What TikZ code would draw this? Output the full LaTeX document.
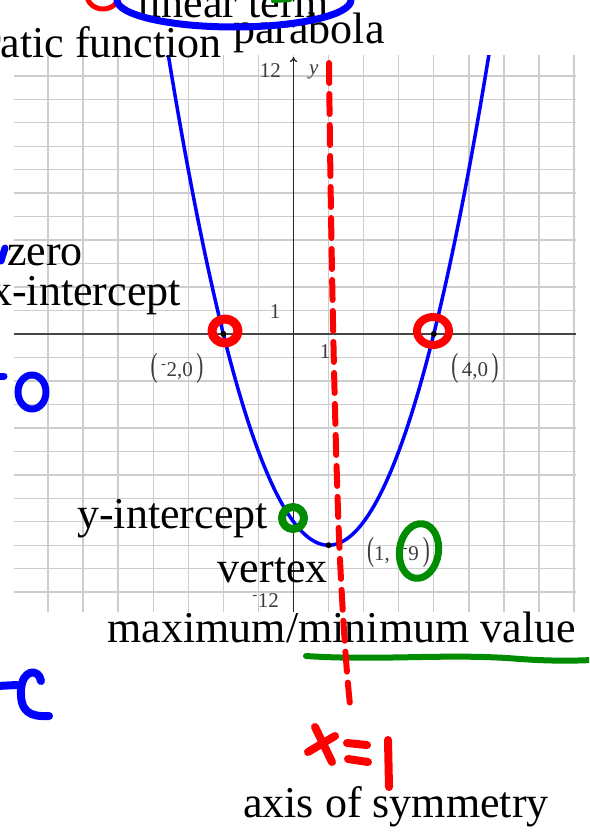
\documentclass[tikz,border=0pt]{standalone}
\usepackage{fontspec}
\setmainfont{Liberation Serif}
\usetikzlibrary{arrows.meta}
\definecolor{penred}{RGB}{255,0,0}
\definecolor{penblue}{RGB}{0,0,255}
\definecolor{pengreen}{RGB}{0,140,0}
\definecolor{gridgray}{RGB}{205,205,205}
\definecolor{labgray}{RGB}{60,60,60}
\definecolor{axisgray}{RGB}{70,70,70}
\tikzset{
  bigtext/.style={font=\fontsize{44}{48}\selectfont, inner sep=0pt, text=black},
  smalltext/.style={font=\fontsize{21}{23}\selectfont, inner sep=0pt, text=labgray},
  pen/.style={line width=#1, line cap=round, line join=round},
  gridline/.style={draw=gridgray, line width=1.4pt},
  curve/.style={draw=penblue, line width=3.5pt},
  dot/.style={circle, fill=black, inner sep=0pt, minimum size=6pt},
}
\newcommand{\tallp}[1]{\scalebox{1}[1.6]{#1}}
\begin{document}
\begin{tikzpicture}[x=1pt,y=-1pt]
\useasboundingbox (0,0) rectangle (589,835);
\clip (0,0) rectangle (589,835);
\fill[white] (0,0) rectangle (589,835);
% grid
\foreach \i in {-7,...,8} {
  \draw[gridline] ({293.5+35.07*\i},55) -- ({293.5+35.07*\i},612);
}
\foreach \j in {-11,...,11} {
  \draw[gridline] (14,{334-23.47*\j}) -- (576,{334-23.47*\j});
}
% axes
\draw[draw=axisgray, line width=1.5pt] (14,334) -- (576,334);
\draw[draw=black!85, line width=1.3pt, -{To[length=5pt,width=7pt]}] (293.5,612) -- (293.5,57);
% parabola
\begin{scope}
\clip (14,55) rectangle (576,612);
\draw[curve, domain=-3.7:5.7, samples=120, variable=\t]
  plot ({293.5+35.07*\t},{334-23.47*(\t*\t-2*\t-8)});
\end{scope}
% points
\node[dot] (pa) at (223.4,334) {};
\node[dot] (pb) at (433.8,334) {};
\node[dot] (pv) at (328.6,545.2) {};
% axis labels
\node[smalltext, anchor=base east] (l12) at (281,77) {12};
\node[smalltext, anchor=base west] (ly) at (309,74) {\itshape y};
\node[smalltext, anchor=base] (l1a) at (275,318) {1};
\node[smalltext, anchor=base] (l1b) at (325,358) {1};
\node[smalltext, anchor=base east] (lm12) at (279,607) {\textsuperscript{-}12};
\node[smalltext] (lab1) at (177,368) {\tallp{(}\,\textsuperscript{-}2,0\,\tallp{)}};
\node[smalltext] (lab2) at (475,368) {\tallp{(}\,4,0\,\tallp{)}};
\node[smalltext, anchor=west] (lab3) at (367,552) {\tallp{(}1,\hspace{13pt}\textsuperscript{-}9\hspace{4pt}\tallp{)}};
% big texts
\node[bigtext, anchor=base east] (tq) at (222,57) {quadratic function};
\node[bigtext, anchor=base west] (tl) at (137,17) {linear term};
\node[bigtext, anchor=base west] (tp) at (233,43) {parabola};
\node[bigtext, anchor=base west] (tz) at (7,265) {zero};
\node[bigtext, anchor=base east] (tx) at (181,305) {x-intercept};
\node[bigtext, anchor=base east] (tyi) at (268,528) {y-intercept};
\node[bigtext, anchor=base east] (tv) at (328,582) {vertex};
\node[bigtext, anchor=base east] (tm) at (576,642) {maximum/minimum value};
\node[bigtext, anchor=base west] (ta) at (243,817) {axis of symmetry};
% pen annotations: top
\draw[pen=5pt, penred] (103,-5) ellipse (16 and 14);
\draw[pen=7pt, penblue] (234,0) ellipse (117 and 27);
\draw[pen=4pt, pengreen] (273,1) -- (290,0);
% blue marks on the left
\draw[pen=7pt, penblue] (1,261) -- (5,248);
\draw[pen=7pt, penblue] (-2,376) -- (4,376);
\draw[pen=7pt, penblue] (32,392) ellipse (14 and 17);
\draw[pen=8pt, penblue] (-3,686) -- (17,685);
\draw[pen=8pt, penblue] (41,681) .. controls (39,668) and (22,669) .. (21,690)
  .. controls (20,712) and (30,717) .. (49,716);
% red circles at zeros
\draw[pen=9pt, penred] (225,331) ellipse (13 and 12);
\draw[pen=8pt, penred] (433,331) ellipse (16 and 14);
% green circles
\draw[pen=8pt, pengreen] (293,518) ellipse (11 and 11);
\draw[pen=7pt, pengreen, rotate around={-8:(419,551)}] (419,551) ellipse (19.5 and 27.5);
% green underline
\draw[pen=6pt, pengreen] (306,656) .. controls (380,661) and (450,653) .. (520,659)
  .. controls (550,661) and (570,661) .. (592,660);
% red axis of symmetry
\draw[pen=6pt, penred, dash pattern=on 20pt off 11pt]
  (329,63) .. controls (331,250) and (335,450) .. (340,560)
  .. controls (344,640) and (348,690) .. (351,713);
% x = 1
\draw[pen=8pt, penred] (315,727) -- (332,762);
\draw[pen=8pt, penred] (308,752) -- (335,736);
\draw[pen=8pt, penred] (347,743) -- (367,745);
\draw[pen=8pt, penred] (348,759) -- (368,762);
\draw[pen=8pt, penred] (388,740) -- (389,787);
\end{tikzpicture}
\end{document}
